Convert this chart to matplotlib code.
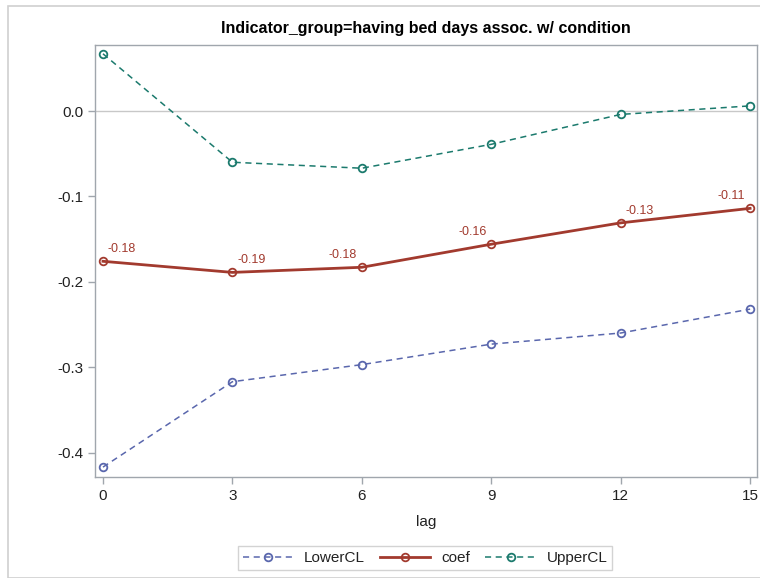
import matplotlib
matplotlib.use("Agg")
import matplotlib.pyplot as plt
from matplotlib.patches import Rectangle

plt.rcParams['font.family'] = ['Liberation Sans', 'DejaVu Sans']

lag = [0, 3, 6, 9, 12, 15]
lower_cl = [-0.417, -0.317, -0.297, -0.273, -0.260, -0.232]
coef = [-0.176, -0.189, -0.183, -0.156, -0.131, -0.114]
upper_cl = [0.067, -0.060, -0.067, -0.039, -0.004, 0.006]
coef_labels = ["-0.18", "-0.19", "-0.18", "-0.16", "-0.13", "-0.11"]
label_side = [1, 1, -1, -1, 1, -1]
title = "Indicator_group=having bed days assoc. w/ condition"

c_lower = "#5a67ad"
c_coef = "#a23a2e"
c_upper = "#1b7a6d"
gray = "#a0a6ad"

fig = plt.figure(figsize=(7.6, 5.78), dpi=100)
fig.patches.append(Rectangle((8/760, 0), 1.0, 1 - 6/578, transform=fig.transFigure,
                             fill=False, edgecolor="#d0d0d0", linewidth=1.2))
ax = fig.add_axes([95/760, 1 - 477/578, (757 - 95)/760, (477 - 45)/578])

ax.axhline(0, color="#c8c8c8", linewidth=1, zorder=0)

ax.plot(lag, lower_cl, linestyle=(0, (4, 3)), color=c_lower, linewidth=1.1,
        marker='o', markersize=5.5, markerfacecolor='none', markeredgewidth=1.3,
        label="LowerCL")
ax.plot(lag, coef, linestyle='-', color=c_coef, linewidth=2.0,
        marker='o', markersize=5.5, markerfacecolor='none', markeredgewidth=1.3,
        label="coef")
ax.plot(lag, upper_cl, linestyle=(0, (4, 3)), color=c_upper, linewidth=1.1,
        marker='o', markersize=5.5, markerfacecolor='none', markeredgewidth=1.3,
        label="UpperCL")

for x, y, t, s in zip(lag, coef, coef_labels, label_side):
    ax.annotate(t, (x, y), xytext=(s * 19, 12), textcoords='offset pixels',
                ha='center', va='center', color=c_coef, fontsize=9)

ax.set_xlim(-0.185, 15.16)
ax.set_ylim(-0.4286, 0.0773)
ax.set_xticks(lag)
ax.set_yticks([0.0, -0.1, -0.2, -0.3, -0.4])
ax.set_yticklabels(["0.0", "-0.1", "-0.2", "-0.3", "-0.4"])
ax.tick_params(axis='both', colors=gray, labelcolor="#222222", labelsize=11,
               length=5, width=1)
for sp in ax.spines.values():
    sp.set_color(gray)
    sp.set_linewidth(1)

ax.set_xlabel("lag", fontsize=11, color="#222222", labelpad=9)
ax.set_title(title, fontsize=11.5, fontweight='bold', pad=9)

leg = fig.legend(loc='center', bbox_to_anchor=(425/760, 1 - 558/578), ncol=3,
                 frameon=True, fancybox=False, fontsize=11, handlelength=3.3,
                 columnspacing=1.0, handletextpad=0.7, borderpad=0.3)
leg.get_frame().set_edgecolor("#c8c8c8")
leg.get_frame().set_linewidth(1)
for t in leg.get_texts():
    t.set_color("#222222")

fig.savefig("out.png", dpi=100)
